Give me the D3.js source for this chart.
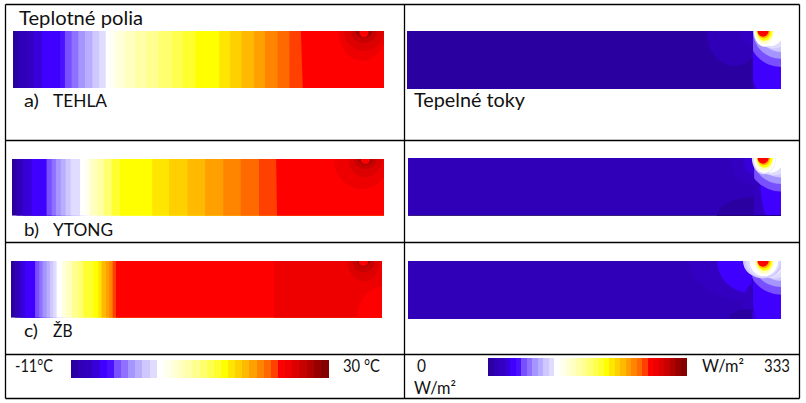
<!DOCTYPE html>
<html lang="sk">
<head>
<meta charset="utf-8">
<script src="https://cdn.jsdelivr.net/npm/d3@7"></script>
<style>
  html, body { margin: 0; background: #fff; }
  svg { display: block; }
  text { font-family: Lato, "Open Sans", sans-serif; fill: #111; }
</style>
</head>
<body>
<div id="chart"></div>
<script>
// Paleta - farebne urovne legendy (od modrej po tmavocervenu)
const PALETTE = [
  "#2a00a0", "#3000b8", "#3300c2", "#3800d8", "#4000ff", "#4a10ff",
  "#7850ff", "#8f70ff", "#a595ff", "#b8adff", "#cfc8ff", "#e0dcff",
  "#ffffff", "#ffffee", "#ffffd8", "#ffffc0", "#ffffa8", "#ffff90",
  "#ffff70", "#ffff50", "#ffff30", "#ffff00", "#ffe600", "#ffd000",
  "#ffb900", "#ff9f00", "#ff8400", "#ff6a00", "#ff4000", "#ff0000",
  "#ee0000", "#dd0000", "#c80000", "#b00000", "#980000", "#850000",
];

// Teplotne polia: zaciatok pasma v % dlzky rezu a jeho farebna uroven
const tehlaEdges = [0, 1.4, 3.7, 5.5, 7.7, 12.7, 14, 15.8, 17.6, 19.4, 21.4, 23.2, 25, 26.3, 27.9, 30.2, 32.9, 36, 39.2, 42.8, 45.6, 49.1, 55.6, 58.5, 61.6, 65, 67.9, 71.3, 74.5, 77.6];
const tehlaLevels = [0, 1, 2, 3, 4, 5, 6, 7, 8, 9, 10, 11, 12, 13, 14, 15, 16, 17, 18, 19, 20, 21, 22, 23, 24, 25, 26, 27, 28, 29];
const ytongEdges = [0, 1.25, 2.9, 5.3, 9.3, 10.7, 11.8, 13.1, 14.4, 15.8, 17.1, 18.3, 19.6, 21, 22.8, 24.6, 26.8, 29, 37.7, 42.2, 47.2, 51.9, 56.8, 61.5, 66.4, 71];
const ytongLevels = [0, 1, 3, 4, 6, 7, 8, 9, 10, 11, 11, 12, 13, 15, 16, 18, 20, 21, 22, 23, 24, 25, 26, 27, 28, 29];
const zbEdges = [0, 1.1, 2.4, 3.8, 6.5, 7.6, 8.5, 9.6, 10.5, 11.4, 12.3, 13.7, 15, 16.4, 18.1, 19.5, 22.2, 23.5, 24.4, 25.6, 26.5, 27.4, 28.3, 70.9];
const zbLevels = [0, 1, 3, 4, 6, 7, 8, 9, 10, 11, 12, 14, 15, 17, 18, 20, 21, 22, 24, 25, 26, 28, 29, 30];

// Izociary ako elipsy: [stred x %, stred y %, polos x %, polos y %, uroven]
const tehlaSpots = [[94.1, 0, 6.5, 52, 30], [94.6, 0, 5.4, 35, 31], [94.6, 0, 3.5, 21, 32], [94.6, 0, 2.2, 12, 34], [94.6, 3, 1.2, 8, 29]];
const ytongSpots = [[94, 0, 7.5, 53, 30], [95, 0, 4.5, 32, 31], [95, 0, 3, 18, 32], [95, 0, 2, 10, 34], [95, 2, 1.2, 7, 29]];
const zbSpots = [[100, 100, 6.7, 55, 29], [95, 0, 4.3, 36, 31], [95, 0, 3, 20, 32], [95, 0, 1.8, 10, 34], [95, 2, 1.2, 7, 29]];

// Tepelne toky: vlavo od steny, vpravo od steny a okolo horuceho miesta
const tehlaFluxLeft = [[87.5, 7, 7.2, 53, 1], [92.5, 0, 3.5, 26, 2]];
const tehlaFluxRight = [[95.5, 0, 30, 300, 2], [100, 0, 10, 130, 4], [100, 0, 9, 62, 6], [100, 0, 7.5, 48, 8], [100, 0, 6, 36, 10], [98, 0, 5, 30, 11], [97, 0, 3.8, 26, 12]];
const tehlaFluxHot = [[95.6, 0, 2.9, 27, 12], [95.6, 0, 2.5, 22, 15], [95.6, 0, 2.1, 17, 21], [95.4, 0, 1.7, 13, 24], [95.2, 0, 1.5, 10, 29]];

const ytongFluxLeft = [[92.8, 0, 6.3, 47, 2], [92.8, 0, 2.8, 30, 3], [92.8, 100, 10, 32, 0]];
const ytongFluxRight = [[95, 0, 30, 300, 2], [100, 40, 5.5, 90, 4], [100, 0, 9, 58, 6], [100, 0, 7.5, 45, 8], [100, 0, 6, 34, 10], [98, 0, 5, 30, 11], [97, 0, 3.8, 26, 12]];
const ytongFluxHot = [[95.4, 0, 3.2, 28, 11], [95.6, 0, 2.9, 26, 12], [95.6, 0, 2.5, 22, 15], [95.6, 0, 2.1, 17, 21], [95.4, 0, 1.7, 13, 24], [95.2, 0, 1.5, 10, 29]];

const zbFluxLeft = [[92.3, 0, 17, 70, 2], [92.3, 0, 9.4, 56, 4], [92.3, 80, 2.5, 40, 2], [90.7, 100, 4.5, 17, 0]];
const zbFluxRight = [[95, 0, 30, 300, 3], [99, 40, 7, 100, 4], [100, 0, 9, 58, 6], [100, 0, 7.5, 45, 8], [100, 0, 6, 34, 10], [98, 0, 5, 30, 11], [97, 0, 3.8, 26, 12]];
const zbFluxHot = [[95.2, 0, 5.4, 30, 10], [95.2, 0, 4.6, 28, 11], [95.4, 0, 3.8, 26, 12], [95.6, 0, 2.6, 22, 15], [95.6, 0, 2.1, 17, 21], [95.4, 0, 1.8, 13, 24], [95.2, 0, 1.5, 10, 29]];

const width = 806;
const height = 403;
const color = d3.scaleOrdinal(d3.range(PALETTE.length), PALETTE);

const svg = d3.select("#chart").append("svg").attr("width", width).attr("height", height);
const defs = svg.append("defs");
let clipId = 0;

// Vrati nove id clip-pathu pre obdlznik
function addClip(x, y, w, h) {
  const id = `clip-${clipId++}`;
  defs.append("clipPath").attr("id", id).append("rect").attr("x", x).attr("y", y).attr("width", w).attr("height", h);
  return `url(#${id})`;
}

function drawSpots(g, spots, x, y) {
  g.selectAll(null)
    .data(spots)
    .join("ellipse")
    .attr("cx", (d) => x(d[0]))
    .attr("cy", (d) => y(d[1]))
    .attr("rx", (d) => x(d[2]) - x(0))
    .attr("ry", (d) => y(d[3]) - y(0))
    .attr("fill", (d) => color(d[4]));
}

// Panel teplotneho pola - zvisle pasma a izociary v rohu
function drawTemperature(box, edges, levels, spots, skew) {
  const x = d3.scaleLinear([0, 100], [box.x0, box.x1]);
  const y = d3.scaleLinear([0, 100], [box.y0, box.y1]);
  const g = svg.append("g").attr("clip-path", addClip(box.x0, box.y0, box.x1 - box.x0, box.y1 - box.y0));
  const line = d3.line();
  g.selectAll("path")
    .data(edges)
    .join("path")
    .attr("d", (d, i) => {
      const bottom = i === edges.length - 1 ? d + skew : d;
      return line([[x(d), y(0)], [x(100), y(0)], [x(100), y(100)], [x(bottom), y(100)]]) + "Z";
    })
    .attr("fill", (d, i) => color(levels[i]));
  drawSpots(g, spots, x, y);
}

// Panel tepelnych tokov - podklad, stena a horuce miesto
function drawFlux(box, baseLevel, wall, left, right, hot) {
  const x = d3.scaleLinear([0, 100], [box.x0, box.x1]);
  const y = d3.scaleLinear([0, 100], [box.y0, box.y1]);
  const g = svg.append("g").attr("clip-path", addClip(box.x0, box.y0, box.x1 - box.x0, box.y1 - box.y0));
  g.append("rect")
    .attr("x", x(0))
    .attr("y", y(0))
    .attr("width", x(100) - x(0))
    .attr("height", y(100) - y(0))
    .attr("fill", color(baseLevel));
  drawSpots(g, left, x, y);
  const behindWall = g.append("g").attr("clip-path", addClip(x(wall), y(0), x(100) - x(wall), y(100) - y(0)));
  drawSpots(behindWall, right, x, y);
  drawSpots(g, hot, x, y);
  return { g, x, y };
}

function drawLegend(x0, x1, y0, y1) {
  const band = d3.scaleBand(d3.range(PALETTE.length), [x0, x1]);
  svg.append("g")
    .attr("shape-rendering", "crispEdges")
    .selectAll("rect")
    .data(band.domain())
    .join("rect")
    .attr("x", (d) => band(d))
    .attr("y", y0)
    .attr("width", band.bandwidth() + 0.5)
    .attr("height", y1 - y0)
    .attr("fill", (d) => color(d));
}

drawTemperature({ x0: 13, x1: 384, y0: 31, y1: 88 }, tehlaEdges, tehlaLevels, tehlaSpots, 0.5);
drawTemperature({ x0: 12, x1: 384, y0: 159, y1: 215.7 }, ytongEdges, ytongLevels, ytongSpots, 0.25);
drawTemperature({ x0: 11, x1: 382, y0: 261, y1: 317.7 }, zbEdges, zbLevels, zbSpots, 0);

drawFlux({ x0: 407, x1: 781, y0: 31, y1: 89 }, 0, 92.5, tehlaFluxLeft, tehlaFluxRight, tehlaFluxHot);
const ytongFlux = drawFlux({ x0: 408, x1: 781, y0: 158, y1: 215.7 }, 1, 92.8, ytongFluxLeft, ytongFluxRight, ytongFluxHot);
const zbFlux = drawFlux({ x0: 408, x1: 781, y0: 261, y1: 319 }, 1, 92.3, zbFluxLeft, zbFluxRight, zbFluxHot);

// Tmava spodna hrana panelu b) a stena v paneli c)
ytongFlux.g.append("line")
  .attr("x1", ytongFlux.x(0)).attr("x2", ytongFlux.x(100))
  .attr("y1", ytongFlux.y(100)).attr("y2", ytongFlux.y(100))
  .attr("stroke", "#1a0060").attr("stroke-width", 1.2);
zbFlux.g.append("line")
  .attr("x1", zbFlux.x(92.3)).attr("x2", zbFlux.x(92.3))
  .attr("y1", zbFlux.y(30)).attr("y2", zbFlux.y(88))
  .attr("stroke", color(0)).attr("stroke-width", 1);

drawLegend(71, 328, 360, 378);
drawLegend(488, 686, 358, 376);

// Mriezka tabulky
const tableLines = [
  [5.5, 4.5, 799.5, 4.5],
  [5.5, 140.5, 799.5, 140.5],
  [5.5, 242.5, 799.5, 242.5],
  [5.5, 354.5, 799.5, 354.5],
  [5.5, 398.5, 799.5, 398.5],
  [5.5, 4.5, 5.5, 398.5],
  [404.5, 4.5, 404.5, 398.5],
  [799.5, 4.5, 799.5, 398.5],
];
svg.append("g")
  .selectAll("line")
  .data(tableLines)
  .join("line")
  .attr("x1", (d) => d[0])
  .attr("y1", (d) => d[1])
  .attr("x2", (d) => d[2])
  .attr("y2", (d) => d[3])
  .attr("stroke", "#000")
  .attr("stroke-width", 1.3);

// Popisy: text, pozicia, velkost pisma a sirka z obrazka
const labels = [
  { text: "Teplotné polia", x: 19, y: 25, size: 18.5, w: 124 },
  { text: "a)", x: 24, y: 107, size: 17.5, w: 15 },
  { text: "TEHLA", x: 53, y: 107, size: 17.5, w: 54 },
  { text: "Tepelné toky", x: 414, y: 107, size: 18.5, w: 111 },
  { text: "b)", x: 24, y: 236, size: 17.5, w: 15 },
  { text: "YTONG", x: 53, y: 236, size: 17.5, w: 60 },
  { text: "c)", x: 24, y: 337, size: 17.5, w: 14 },
  { text: "ŽB", x: 53, y: 337, size: 17.5, w: 19.5 },
  { text: "-11°C", x: 15, y: 372, size: 17, w: 38 },
  { text: "30 °C", x: 343, y: 372, size: 17, w: 37 },
  { text: "0", x: 417, y: 372, size: 17, w: 9 },
  { text: "W/m²", x: 414, y: 394, size: 17, w: 42 },
  { text: "W/m²", x: 702, y: 372, size: 17, w: 42 },
  { text: "333", x: 764, y: 372, size: 17, w: 26 },
];
svg.append("g")
  .selectAll("text")
  .data(labels)
  .join("text")
  .attr("x", (d) => d.x)
  .attr("y", (d) => d.y)
  .attr("font-size", (d) => d.size)
  .attr("textLength", (d) => d.w)
  .attr("lengthAdjust", "spacingAndGlyphs")
  .text((d) => d.text);
</script>
</body>
</html>
